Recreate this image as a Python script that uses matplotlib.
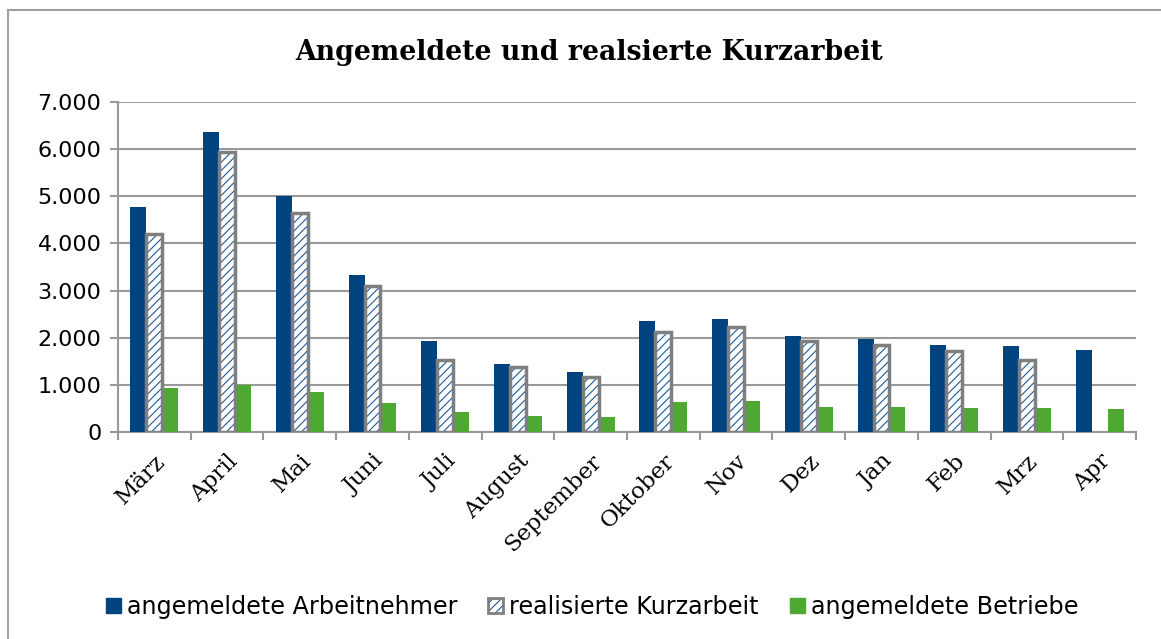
import matplotlib.pyplot as plt
import matplotlib.patches as mpatches
from matplotlib.legend_handler import HandlerTuple
import numpy as np

months = ["März", "April", "Mai", "Juni", "Juli", "August", "September",
          "Oktober", "Nov", "Dez", "Jan", "Feb", "Mrz", "Apr"]
arbeitnehmer = [4770, 6360, 5000, 3320, 1920, 1450, 1265, 2350, 2405, 2045,
                1965, 1845, 1825, 1740]
realisiert = [4210, 5930, 4640, 3095, 1525, 1385, 1165, 2125, 2220, 1935,
              1835, 1725, 1525, np.nan]
betriebe = [940, 1000, 840, 610, 430, 330, 310, 635, 655, 535, 535, 515, 515, 495]

blue = "#01437f"
green = "#4ea832"
grey = "#7f7f7f"
plt.rcParams["hatch.linewidth"] = 0.8

fig = plt.figure(figsize=(11.61, 6.39), dpi=100)
ax = fig.add_axes([118/1161, 1-432/639, (1136-118)/1161, (432-102)/639])

x = np.arange(len(months))
w = 0.22
ax.bar(x - w, arbeitnehmer, w, color=blue, zorder=3)
ax.bar(x, realisiert, w, color="white", edgecolor="#1a5a9a", hatch="////", lw=0, zorder=3)
ax.bar(x, realisiert, w, color="none", edgecolor=grey, lw=2.5, zorder=4)
ax.bar(x + w, betriebe, w, color=green, zorder=3)

ax.set_ylim(0, 7000)
ax.set_xlim(-0.5, len(months) - 0.5)
ax.set_yticks(np.arange(0, 7001, 1000))
ax.set_yticklabels(["0" if v == 0 else f"{v//1000}.{v%1000:03d}" for v in range(0, 7001, 1000)],
                   fontsize=16)
ax.yaxis.grid(True, color="#999999", lw=1.5, zorder=0)
ax.set_axisbelow(True)

ax.set_xticks(x)
ax.set_xticklabels(months, rotation=45, ha="right", rotation_mode="anchor",
                   fontsize=16.5, family="DejaVu Serif")
ax.set_xticks(np.arange(-0.5, len(months), 1), minor=True)
ax.tick_params(axis="x", which="major", length=0, pad=13)
ax.tick_params(axis="x", which="minor", length=6, width=1.5, color="#999999")
ax.tick_params(axis="y", length=6, width=1.5, color="#999999", pad=6)

for s in ["top", "right"]:
    ax.spines[s].set_visible(False)
ax.spines["left"].set_color("#999999")
ax.spines["left"].set_linewidth(1.5)
ax.spines["bottom"].set_color("#999999")
ax.spines["bottom"].set_linewidth(1.5)

fig.text(0.507, 1-52/639, "Angemeldete und realsierte Kurzarbeit", ha="center", va="center",
         fontsize=19.3, fontweight="bold", family="DejaVu Serif")

frame = mpatches.Rectangle((8/1161, -0.2), 1.2, 1.2 - 10/639, transform=fig.transFigure,
                           fill=False, edgecolor="#a0a0a0", lw=1.5, clip_on=False)
fig.patches.append(frame)

h1 = mpatches.Patch(color=blue)
h2a = mpatches.Patch(facecolor="white", edgecolor="#1a5a9a", hatch="////", lw=0)
h2b = mpatches.Patch(facecolor="none", edgecolor=grey, lw=2)
h3 = mpatches.Patch(color=green)
fig.legend([h1, (h2a, h2b), h3],
           ["angemeldete Arbeitnehmer", "realisierte Kurzarbeit", "angemeldete Betriebe"],
           handler_map={tuple: HandlerTuple(ndivide=1)},
           loc="center", bbox_to_anchor=(0.51, 1-607/639), ncol=3, frameon=False,
           fontsize=17.2, handlelength=0.62, handleheight=0.62, handletextpad=0.25,
           columnspacing=1.3)

fig.savefig("out.png", dpi=100)
